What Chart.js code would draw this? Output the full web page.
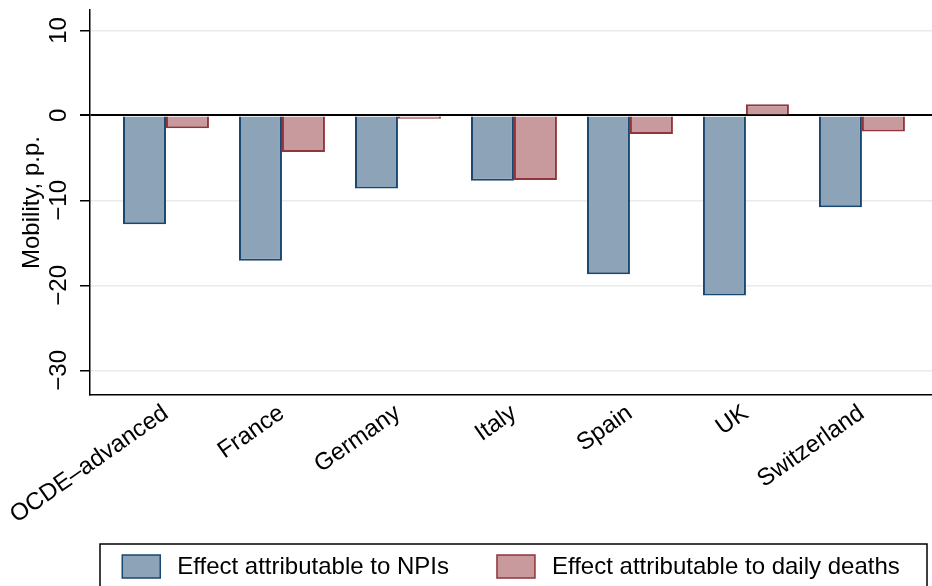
<!DOCTYPE html>
<html>
<head>
<meta charset="utf-8">
<script src="https://cdn.jsdelivr.net/npm/chart.js@4.4.1/dist/chart.umd.min.js"></script>
<style>
  html, body { margin: 0; padding: 0; background: #fff; }
  #wrap { width: 932px; height: 586px; }
</style>
</head>
<body>
<div id="wrap"><canvas id="mobilityChart" width="932" height="586"></canvas></div>
<script>
// data
const categories = ['OCDE–advanced', 'France', 'Germany', 'Italy', 'Spain', 'UK', 'Switzerland'];
const npiEffect = [-12.8, -17.1, -8.6, -7.7, -18.7, -21.2, -10.8];
const deathsEffect = [-1.5, -4.3, -0.4, -7.6, -2.2, 1.3, -1.9];
const seriesNames = ['Effect attributable to NPIs', 'Effect attributable to daily deaths'];
const yTicks = [10, 0, -10, -20, -30];

Chart.defaults.font.family = '"Liberation Sans", Arial, Helvetica, sans-serif';
Chart.defaults.color = '#000';

const toPoints = arr => arr.map((v, i) => ({ x: i, y: v }));

// legend drawn in a box under the plot, like Stata does
const boxedLegend = {
    id: 'boxedLegend',
    afterDraw(chart) {
        const ctx = chart.ctx;
        const area = chart.chartArea;
        const sets = chart.data.datasets;
        const sw = 38, sh = 23, textGap = 17, itemGap = 48;
        const top = 544;

        ctx.save();
        ctx.lineWidth = 1.5;
        ctx.strokeStyle = '#000';
        ctx.strokeRect(area.left + 10, top, area.right - area.left - 15, 60);

        ctx.font = '24px "Liberation Sans", Arial, sans-serif';
        const widths = sets.map(d => ctx.measureText(d.label).width);
        const total = widths.reduce((a, w) => a + sw + textGap + w, 0) + itemGap * (sets.length - 1);
        let x = (area.left + area.right) / 2 - total / 2;
        const y = top + 11;

        sets.forEach((d, i) => {
            ctx.fillStyle = d.backgroundColor;
            ctx.fillRect(x, y, sw, sh);
            ctx.strokeStyle = d.borderColor;
            ctx.lineWidth = 1.5;
            ctx.strokeRect(x, y, sw, sh);
            ctx.fillStyle = '#000';
            ctx.textBaseline = 'middle';
            ctx.textAlign = 'left';
            ctx.fillText(d.label, x + sw + textGap, y + sh / 2 + 1);
            x += sw + textGap + widths[i] + itemGap;
        });
        ctx.restore();
    }
};

new Chart(document.getElementById('mobilityChart').getContext('2d'), {
    type: 'bar',
    data: {
        datasets: [{
            label: seriesNames[0],
            data: toPoints(npiEffect),
            backgroundColor: 'rgb(141, 163, 183)',
            borderColor: 'rgb(26, 71, 111)',
            borderWidth: 2,
            categoryPercentage: 0.741,
            barPercentage: 1
        }, {
            label: seriesNames[1],
            data: toPoints(deathsEffect),
            backgroundColor: 'rgb(200, 154, 157)',
            borderColor: 'rgb(144, 53, 59)',
            borderWidth: 2,
            categoryPercentage: 0.741,
            barPercentage: 1
        }]
    },
    options: {
        responsive: false,
        animation: false,
        layout: { padding: { top: 10, right: 0, bottom: 0, left: 0 } },
        plugins: {
            legend: { display: false },
            tooltip: { enabled: false }
        },
        scales: {
            x: {
                type: 'linear',
                offset: false,
                min: -0.655,
                max: 6.604,
                grid: { display: false, drawTicks: false, offset: false },
                border: { color: '#000', width: 1.5 },
                ticks: {
                    stepSize: 1,
                    includeBounds: false,
                    autoSkip: false,
                    minRotation: 35,
                    maxRotation: 35,
                    padding: 4,
                    font: { size: 24 },
                    callback: function(value) {
                        return categories[value] !== undefined ? categories[value] : '';
                    }
                },
                afterFit: function(scale) { scale.height = 191; }
            },
            y: {
                min: -32.9,
                max: 12.4,
                border: { color: '#000', width: 1.5 },
                grid: {
                    tickLength: 10,
                    tickColor: '#000',
                    color: function(ctx) {
                        return ctx.tick && ctx.tick.value === 0 ? '#000' : 'rgb(234, 234, 234)';
                    },
                    lineWidth: function(ctx) {
                        return ctx.tick && ctx.tick.value === 0 ? 2 : 1.5;
                    }
                },
                ticks: {
                    padding: 0,
                    minRotation: 90,
                    maxRotation: 90,
                    crossAlign: 'center',
                    font: { size: 24 },
                    callback: function(value) {
                        return String(value).replace('-', '\u2212');
                    }
                },
                afterBuildTicks: function(scale) {
                    scale.ticks = yTicks.map(v => ({ value: v }));
                },
                title: {
                    display: true,
                    text: 'Mobility, p.p.',
                    font: { size: 24 },
                    padding: { top: 18, bottom: 0 }
                },
                afterFit: function(scale) {
                    scale.width = 90;
                    scale.paddingTop = 0;
                    scale.paddingBottom = 0;
                }
            }
        }
    },
    plugins: [boxedLegend]
});
</script>
</body>
</html>
